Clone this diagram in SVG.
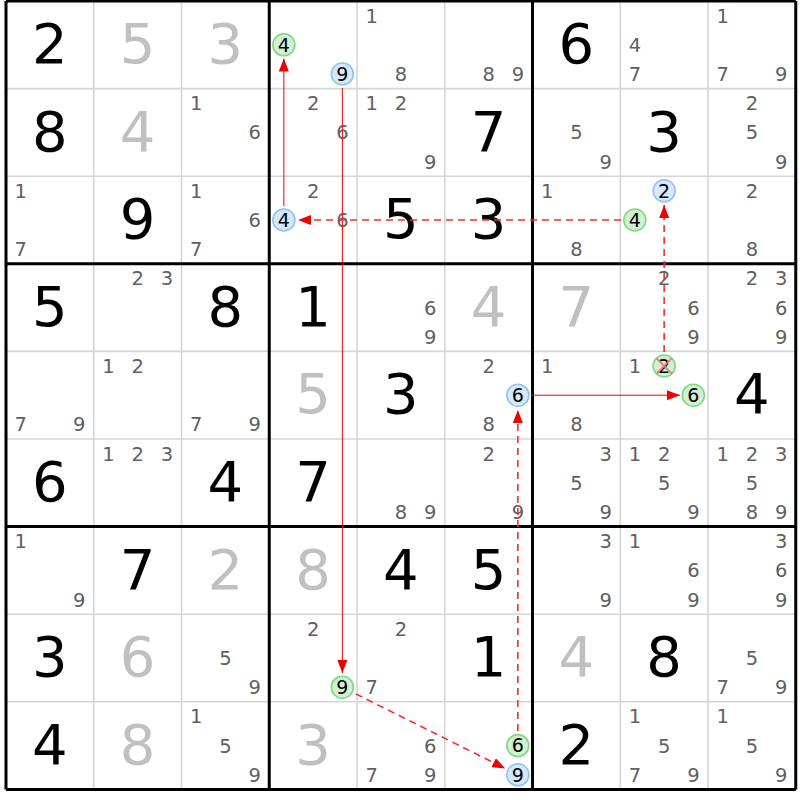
<svg xmlns="http://www.w3.org/2000/svg" width="800" height="800" viewBox="0 0 800 800">
<defs>
<style>
text{font-family:"DejaVu Sans","Verdana",sans-serif;text-anchor:middle}
.g{font-size:56px;fill:#000}
.s{font-size:56px;fill:#c0c0c0}
.c{font-size:19.5px;fill:#606060}
.h{font-size:19px;fill:#000}
.thin{stroke:#d6d6d6;stroke-width:1.6}
.thick{stroke:#000;stroke-width:3}
.cg{fill:#d2f0d2;stroke:#80d880;stroke-width:1.6}
.cb{fill:#d6e8fa;stroke:#90c2f5;stroke-width:1.6}
.solid{stroke:#f00000;stroke-width:1;fill:none}
.dash{stroke:#f03030;stroke-width:1.6;stroke-dasharray:7 5;fill:none}
</style>
<marker id="ah" markerUnits="userSpaceOnUse" markerWidth="13" markerHeight="10" refX="13" refY="5" orient="auto">
<path d="M0,0 L13,5 L0,10 z" fill="#f00000"/>
</marker>
</defs>
<rect x="0" y="0" width="800" height="800" fill="#fff"/>
<g id="grid">
<path class="thin" d="M93.75,1V789.4M181.5,1V789.4M357,1V789.4M444.75,1V789.4M620.25,1V789.4M708,1V789.4M6,88.6H795.75M6,176.2H795.75M6,351.4H795.75M6,439H795.75M6,614.2H795.75M6,701.8H795.75"/>
<path class="thick" d="M6,1V789.4M269.25,1V789.4M532.5,1V789.4M795.75,1V789.4M6,1H795.75M6,263.8H795.75M6,526.6H795.75M6,789.4H795.75"/>
</g>
<g id="givens">
<text class="g" x="49.9" y="63">2</text><text class="s" x="137.65" y="63">5</text><text class="s" x="225.4" y="63">3</text><text class="g" x="576.4" y="63">6</text>
<text class="g" x="49.9" y="150.6">8</text><text class="s" x="137.65" y="150.6">4</text><text class="g" x="488.65" y="150.6">7</text><text class="g" x="664.15" y="150.6">3</text>
<text class="g" x="137.65" y="238.2">9</text><text class="g" x="400.9" y="238.2">5</text><text class="g" x="488.65" y="238.2">3</text>
<text class="g" x="49.9" y="325.8">5</text><text class="g" x="225.4" y="325.8">8</text><text class="g" x="313.15" y="325.8">1</text><text class="s" x="488.65" y="325.8">4</text><text class="s" x="576.4" y="325.8">7</text>
<text class="s" x="313.15" y="413.4">5</text><text class="g" x="400.9" y="413.4">3</text><text class="g" x="751.9" y="413.4">4</text>
<text class="g" x="49.9" y="501">6</text><text class="g" x="225.4" y="501">4</text><text class="g" x="313.15" y="501">7</text>
<text class="g" x="137.65" y="588.6">7</text><text class="s" x="225.4" y="588.6">2</text><text class="s" x="313.15" y="588.6">8</text><text class="g" x="400.9" y="588.6">4</text><text class="g" x="488.65" y="588.6">5</text>
<text class="g" x="49.9" y="676.2">3</text><text class="s" x="137.65" y="676.2">6</text><text class="g" x="488.65" y="676.2">1</text><text class="s" x="576.4" y="676.2">4</text><text class="g" x="664.15" y="676.2">8</text>
<text class="g" x="49.9" y="763.8">4</text><text class="s" x="137.65" y="763.8">8</text><text class="s" x="313.15" y="763.8">3</text><text class="g" x="576.4" y="763.8">2</text>
</g>
<g id="candidates" transform="translate(0,0.5)">
<text class="c" x="371.6" y="22.1">1</text><text class="c" x="400.9" y="80.5">8</text>
<text class="c" x="488.65" y="80.5">8</text><text class="c" x="517.85" y="80.5">9</text>
<text class="c" x="634.85" y="51.3">4</text><text class="c" x="634.85" y="80.5">7</text>
<text class="c" x="722.6" y="22.1">1</text><text class="c" x="722.6" y="80.5">7</text><text class="c" x="781.1" y="80.5">9</text>
<text class="c" x="196.1" y="109.7">1</text><text class="c" x="254.6" y="138.9">6</text>
<text class="c" x="313.15" y="109.7">2</text><text class="c" x="342.35" y="138.9">6</text>
<text class="c" x="371.6" y="109.7">1</text><text class="c" x="400.9" y="109.7">2</text><text class="c" x="430.1" y="168.1">9</text>
<text class="c" x="576.4" y="138.9">5</text><text class="c" x="605.6" y="168.1">9</text>
<text class="c" x="751.9" y="109.7">2</text><text class="c" x="751.9" y="138.9">5</text><text class="c" x="781.1" y="168.1">9</text>
<text class="c" x="20.6" y="197.3">1</text><text class="c" x="20.6" y="255.7">7</text>
<text class="c" x="196.1" y="197.3">1</text><text class="c" x="254.6" y="226.5">6</text><text class="c" x="196.1" y="255.7">7</text>
<text class="c" x="313.15" y="197.3">2</text><text class="c" x="342.35" y="226.5">6</text>
<text class="c" x="547.1" y="197.3">1</text><text class="c" x="576.4" y="255.7">8</text>
<text class="c" x="751.9" y="197.3">2</text><text class="c" x="751.9" y="255.7">8</text>
<text class="c" x="137.65" y="284.9">2</text><text class="c" x="166.85" y="284.9">3</text>
<text class="c" x="430.1" y="314.1">6</text><text class="c" x="430.1" y="343.3">9</text>
<text class="c" x="664.15" y="284.9">2</text><text class="c" x="693.35" y="314.1">6</text><text class="c" x="693.35" y="343.3">9</text>
<text class="c" x="751.9" y="284.9">2</text><text class="c" x="781.1" y="284.9">3</text><text class="c" x="781.1" y="314.1">6</text><text class="c" x="781.1" y="343.3">9</text>
<text class="c" x="20.6" y="430.9">7</text><text class="c" x="79.1" y="430.9">9</text>
<text class="c" x="108.35" y="372.5">1</text><text class="c" x="137.65" y="372.5">2</text>
<text class="c" x="196.1" y="430.9">7</text><text class="c" x="254.6" y="430.9">9</text>
<text class="c" x="488.65" y="372.5">2</text><text class="c" x="488.65" y="430.9">8</text>
<text class="c" x="547.1" y="372.5">1</text><text class="c" x="576.4" y="430.9">8</text>
<text class="c" x="634.85" y="372.5">1</text>
<text class="c" x="108.35" y="460.1">1</text><text class="c" x="137.65" y="460.1">2</text><text class="c" x="166.85" y="460.1">3</text>
<text class="c" x="400.9" y="518.5">8</text><text class="c" x="430.1" y="518.5">9</text>
<text class="c" x="488.65" y="460.1">2</text><text class="c" x="517.85" y="518.5">9</text>
<text class="c" x="605.6" y="460.1">3</text><text class="c" x="576.4" y="489.3">5</text><text class="c" x="605.6" y="518.5">9</text>
<text class="c" x="634.85" y="460.1">1</text><text class="c" x="664.15" y="460.1">2</text><text class="c" x="664.15" y="489.3">5</text><text class="c" x="693.35" y="518.5">9</text>
<text class="c" x="722.6" y="460.1">1</text><text class="c" x="751.9" y="460.1">2</text><text class="c" x="781.1" y="460.1">3</text><text class="c" x="751.9" y="489.3">5</text><text class="c" x="751.9" y="518.5">8</text><text class="c" x="781.1" y="518.5">9</text>
<text class="c" x="20.6" y="547.7">1</text><text class="c" x="79.1" y="606.1">9</text>
<text class="c" x="605.6" y="547.7">3</text><text class="c" x="605.6" y="606.1">9</text>
<text class="c" x="634.85" y="547.7">1</text><text class="c" x="693.35" y="576.9">6</text><text class="c" x="693.35" y="606.1">9</text>
<text class="c" x="781.1" y="547.7">3</text><text class="c" x="781.1" y="576.9">6</text><text class="c" x="781.1" y="606.1">9</text>
<text class="c" x="225.4" y="664.5">5</text><text class="c" x="254.6" y="693.7">9</text>
<text class="c" x="313.15" y="635.3">2</text>
<text class="c" x="400.9" y="635.3">2</text><text class="c" x="371.6" y="693.7">7</text>
<text class="c" x="751.9" y="664.5">5</text><text class="c" x="722.6" y="693.7">7</text><text class="c" x="781.1" y="693.7">9</text>
<text class="c" x="196.1" y="722.9">1</text><text class="c" x="225.4" y="752.1">5</text><text class="c" x="254.6" y="781.3">9</text>
<text class="c" x="430.1" y="752.1">6</text><text class="c" x="371.6" y="781.3">7</text><text class="c" x="430.1" y="781.3">9</text>
<text class="c" x="634.85" y="722.9">1</text><text class="c" x="664.15" y="752.1">5</text><text class="c" x="634.85" y="781.3">7</text><text class="c" x="693.35" y="781.3">9</text>
<text class="c" x="722.6" y="722.9">1</text><text class="c" x="751.9" y="752.1">5</text><text class="c" x="781.1" y="781.3">9</text>
</g>
<g id="connectors">
<line class="solid" x1="342.35" y1="88" x2="342.35" y2="673" marker-end="url(#ah)"/>
<line class="dash" x1="355.8" y1="693.9" x2="505.3" y2="768.5" marker-end="url(#ah)"/>
<line class="dash" x1="517.85" y1="731" x2="517.85" y2="410" marker-end="url(#ah)"/>
<line class="solid" x1="531" y1="395.2" x2="680" y2="395.2" marker-end="url(#ah)"/>
<line class="dash" x1="664.15" y1="352" x2="664.15" y2="205" marker-end="url(#ah)"/>
<line class="dash" x1="621" y1="220" x2="298" y2="220" marker-end="url(#ah)"/>
<line class="solid" x1="283.85" y1="206" x2="283.85" y2="58.5" marker-end="url(#ah)"/>
</g>
<g id="r1c4-4"><circle class="cg" cx="283.85" cy="44.8" r="11"/><text class="h" x="283.85" y="51.6">4</text></g>
<g id="r1c4-9"><circle class="cb" cx="342.35" cy="74" r="11"/><text class="h" x="342.35" y="80.8">9</text></g>
<g id="r3c4-4"><circle class="cb" cx="283.85" cy="220" r="11"/><text class="h" x="283.85" y="226.8">4</text></g>
<g id="r3c8-2"><circle class="cb" cx="664.15" cy="190.8" r="11"/><text class="h" x="664.15" y="197.6">2</text></g>
<g id="r3c8-4"><circle class="cg" cx="634.85" cy="220" r="11"/><text class="h" x="634.85" y="226.8">4</text></g>
<g id="r5c6-6"><circle class="cb" cx="517.85" cy="395.2" r="11"/><text class="h" x="517.85" y="402">6</text></g>
<g id="r5c8-2"><circle class="cg" cx="664.15" cy="366" r="11"/><text class="h" x="664.15" y="372.8">2</text><path d="M656.5,358.3L671.8,373.7M671.8,358.3L656.5,373.7" stroke="#f07878" stroke-width="2" opacity="0.85"/></g>
<g id="r5c8-6"><circle class="cg" cx="693.35" cy="395.2" r="11"/><text class="h" x="693.35" y="402">6</text></g>
<g id="r8c4-9"><circle class="cg" cx="342.35" cy="687.2" r="11"/><text class="h" x="342.35" y="694">9</text></g>
<g id="r9c6-6"><circle class="cg" cx="517.85" cy="745.6" r="11"/><text class="h" x="517.85" y="752.4">6</text></g>
<g id="r9c6-9"><circle class="cb" cx="517.85" cy="774.8" r="11"/><text class="h" x="517.85" y="781.6">9</text></g>
</svg>
